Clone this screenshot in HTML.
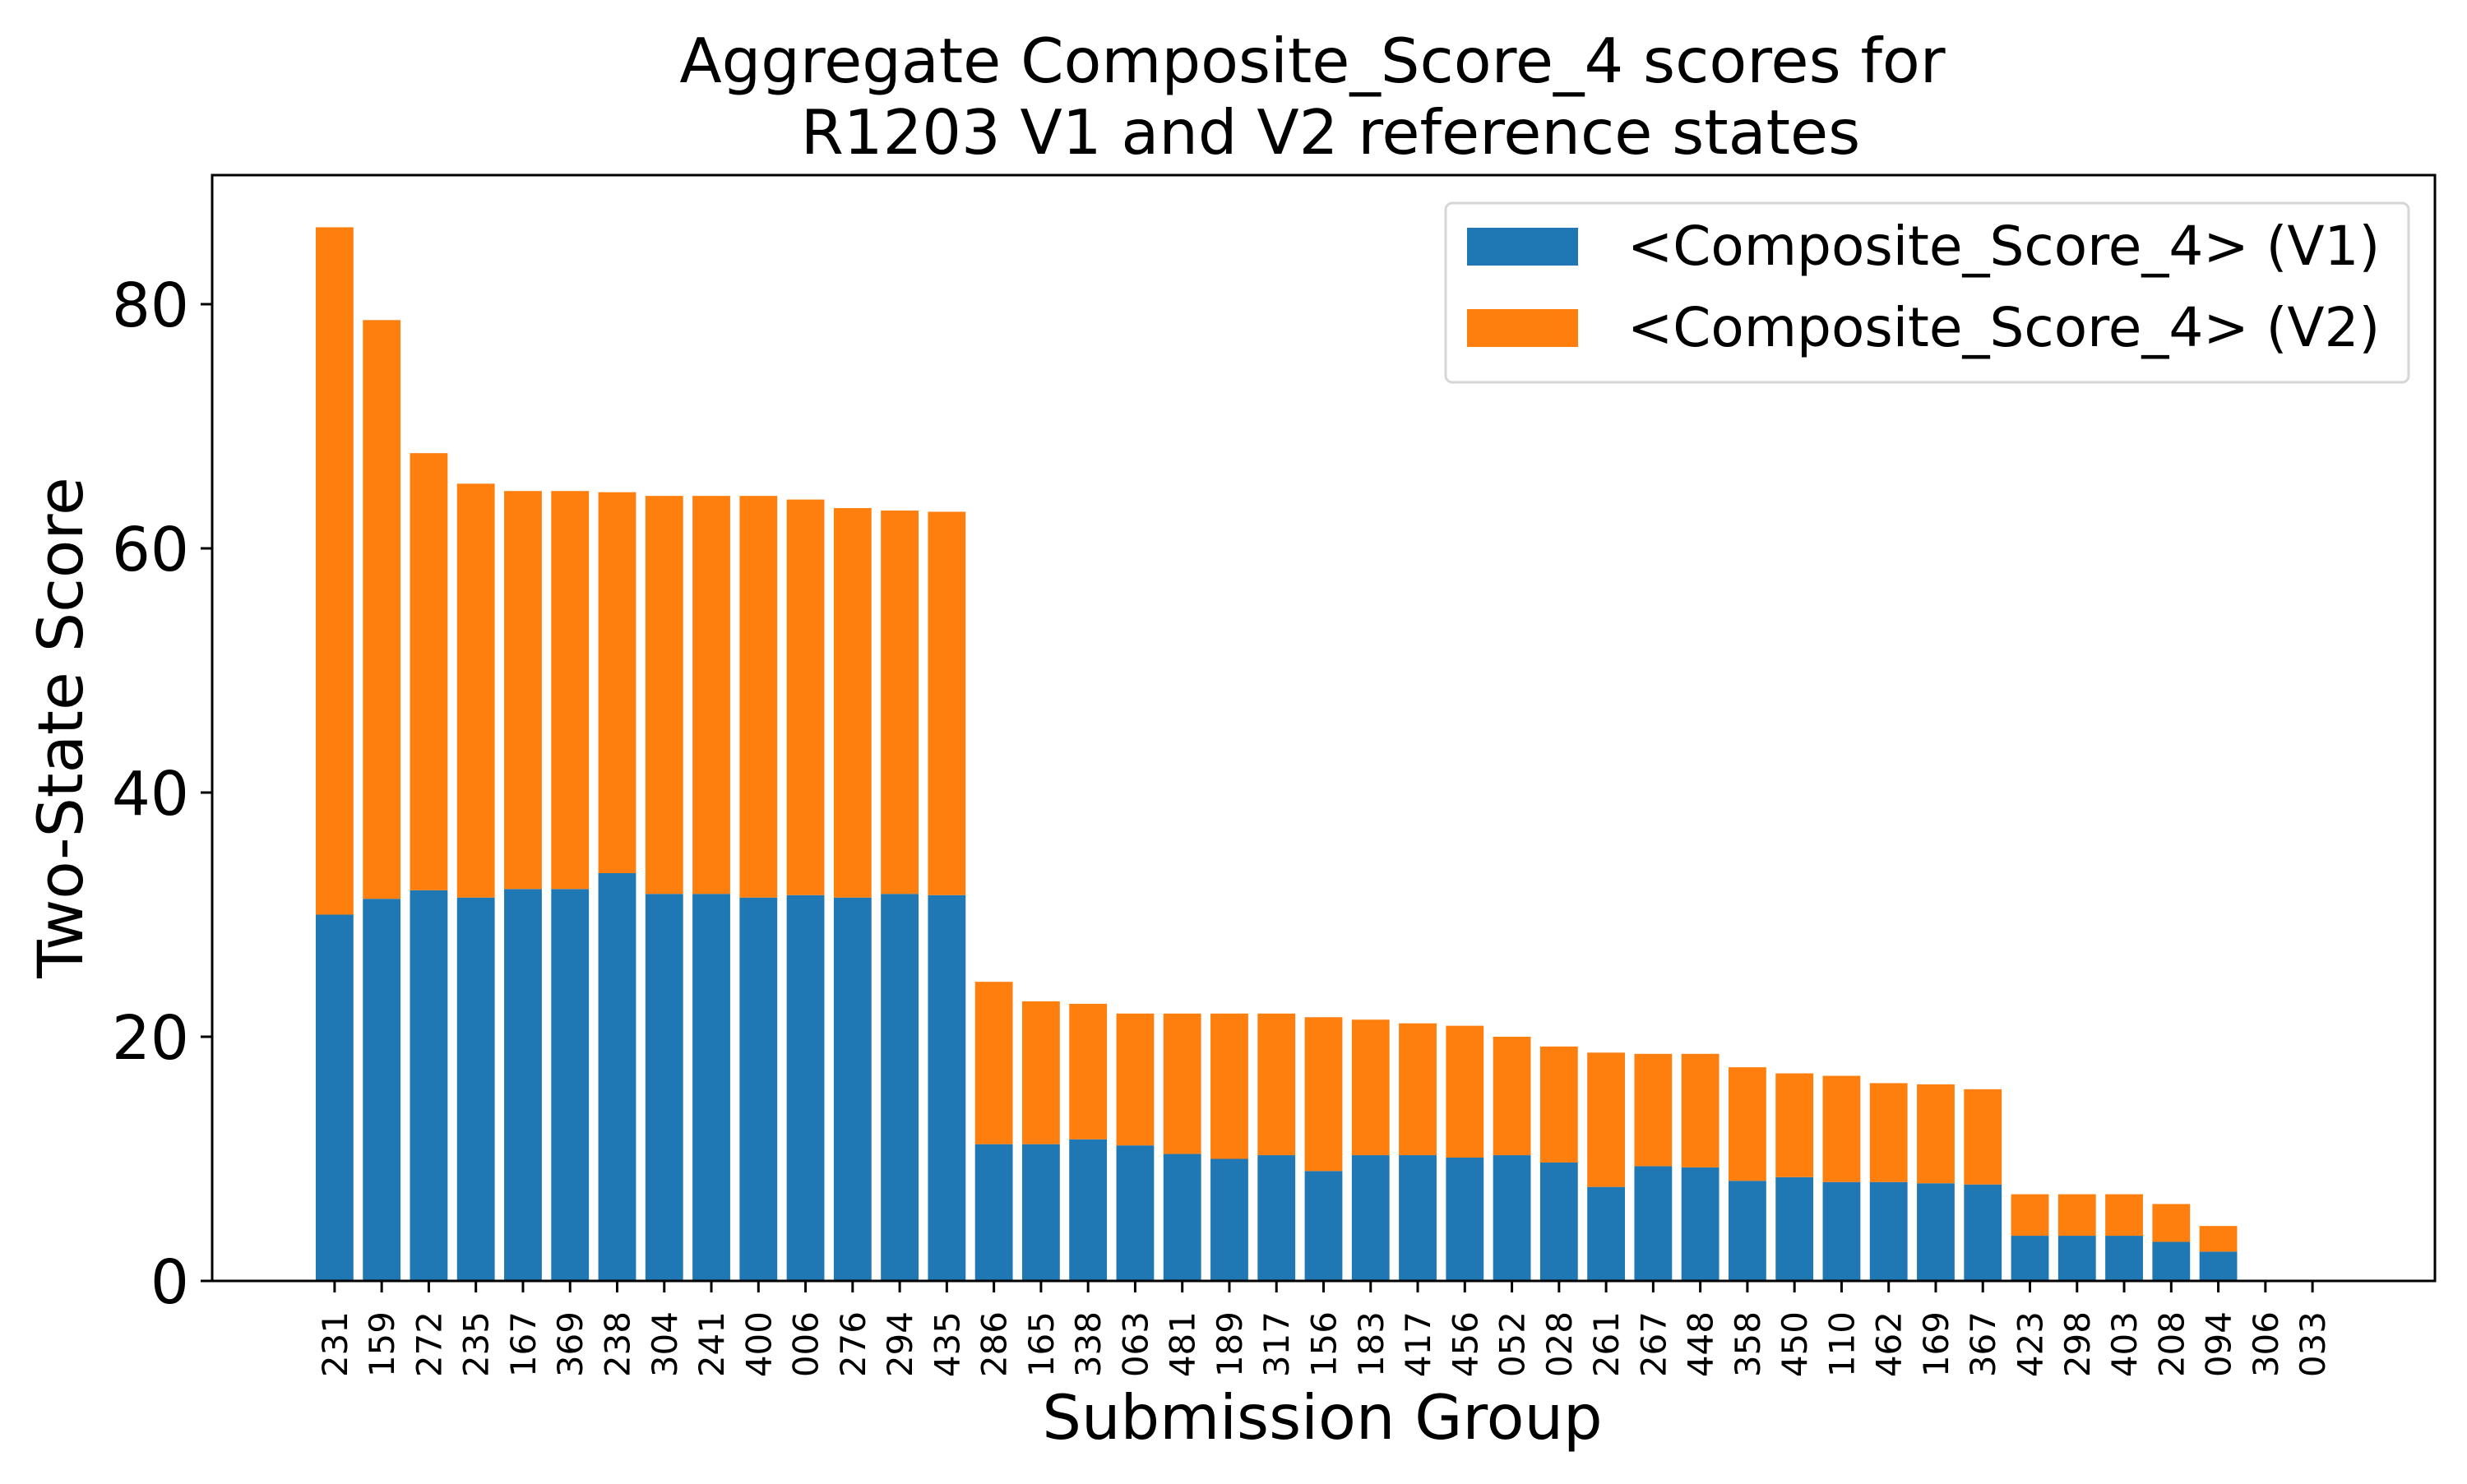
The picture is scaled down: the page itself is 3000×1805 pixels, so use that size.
<!DOCTYPE html>
<html><head><meta charset="utf-8"><style>
html,body{margin:0;padding:0;background:#fff;}
svg text{font-family:"DejaVu Sans","Liberation Sans",sans-serif;fill:#000;}
</style></head><body>
<svg id="chart" xmlns="http://www.w3.org/2000/svg" width="3000" height="1800" viewBox="0 0 3000 1800">
<rect width="3000" height="1800" fill="#fff"/>
<text x="1596" y="100" font-size="75" text-anchor="middle">Aggregate Composite_Score_4 scores for</text>
<text x="1618" y="187" font-size="75" text-anchor="middle">R1203 V1 and V2 reference states</text>
<g id="bars"></g>
<g id="axes"></g>
<rect x="258" y="213" width="2703" height="1345" fill="none" stroke="#000" stroke-width="3"/>
<text transform="translate(100,885) rotate(-90)" font-size="76" text-anchor="middle">Two-State Score</text>
<text x="1608" y="1750" font-size="75" text-anchor="middle">Submission Group</text>
<g>
<rect x="1758" y="247" width="1171" height="218" rx="8" fill="#fff" fill-opacity="0.8" stroke="#d6d6d6" stroke-width="3"/>
<rect x="1784" y="277" width="135" height="46" fill="#1f77b4"/>
<text x="1979" y="322" font-size="66">&lt;Composite_Score_4&gt; (V1)</text>
<rect x="1784" y="376" width="135" height="46" fill="#ff7f0e"/>
<text x="1979" y="421" font-size="66">&lt;Composite_Score_4&gt; (V2)</text>
</g>
</svg>
<script>
const categories = ["231","159","272","235","167","369","238","304","241","400","006","276","294","435","286","165","338","063","481","189","317","156","183","417","456","052","028","261","267","448","358","450","110","462","169","367","423","298","403","208","094","306","033"];
const v1Values = [30.0,31.3,32.0,31.4,32.1,32.1,33.4,31.7,31.7,31.4,31.6,31.4,31.7,31.6,11.2,11.2,11.6,11.1,10.4,10.0,10.3,9.0,10.3,10.3,10.1,10.3,9.7,7.7,9.4,9.3,8.2,8.5,8.1,8.1,8.0,7.9,3.7,3.7,3.7,3.2,2.4,0,0];
const totalValues = [86.3,78.7,67.8,65.3,64.7,64.7,64.6,64.3,64.3,64.3,64.0,63.3,63.1,63.0,24.5,22.9,22.7,21.9,21.9,21.9,21.9,21.6,21.4,21.1,20.9,20.0,19.2,18.7,18.6,18.6,17.5,17.0,16.8,16.2,16.1,15.7,7.1,7.1,7.1,6.3,4.5,0,0];
const v2Values = totalValues.map((t,i)=>+(t - v1Values[i]).toFixed(2));
const yTicks = [0,20,40,60,80];

const NS = "http://www.w3.org/2000/svg";
const plotL = 258, plotR = 2961, plotT = 213, plotB = 1558;
const n = categories.length;
const xMin = -0.4 - 2.2, xMax = (n - 1) + 0.4 + 2.2;
function xScale(i){ return plotL + (i - xMin) / (xMax - xMin) * (plotR - plotL); }
function yScale(v){ return plotB - v / 80 * (plotB - 370); }
const bw = (xScale(1) - xScale(0)) * 0.8;

const bars = document.getElementById('bars');
const axes = document.getElementById('axes');
function mk(tag, attrs){ const e = document.createElementNS(NS, tag); for (const k in attrs) e.setAttribute(k, attrs[k]); return e; }

categories.forEach((c, i) => {
  const cx = xScale(i);
  const b1 = mk('rect', {x: cx - bw/2, y: yScale(v1Values[i]), width: bw, height: yScale(0) - yScale(v1Values[i]), fill: '#1f77b4'});
  
  
  bars.appendChild(b1);
  const b2 = mk('rect', {x: cx - bw/2, y: yScale(v1Values[i] + v2Values[i]), width: bw, height: yScale(v1Values[i]) - yScale(v1Values[i] + v2Values[i]), fill: '#ff7f0e'});
  
  
  bars.appendChild(b2);
  const t = mk('line', {x1: cx, x2: cx, y1: plotB, y2: plotB + 14, stroke: '#000', 'stroke-width': 3});
  
  
  axes.appendChild(t);
  const lbl = mk('text', {transform: 'translate(' + (cx + 15) + ',1595) rotate(-90)', 'font-size': 42, 'text-anchor': 'end'});
  lbl.textContent = c;
  
  
  axes.appendChild(lbl);
});

yTicks.forEach(v => {
  const y = yScale(v);
  const t = mk('line', {x1: plotL - 14, x2: plotL, y1: y, y2: y, stroke: '#000', 'stroke-width': 3});
  
  
  axes.appendChild(t);
  const lbl = mk('text', {x: plotL - 28, y: y + 27, 'font-size': 74, 'text-anchor': 'end'});
  lbl.textContent = v;
  
  
  axes.appendChild(lbl);
});
</script>
</body></html>
